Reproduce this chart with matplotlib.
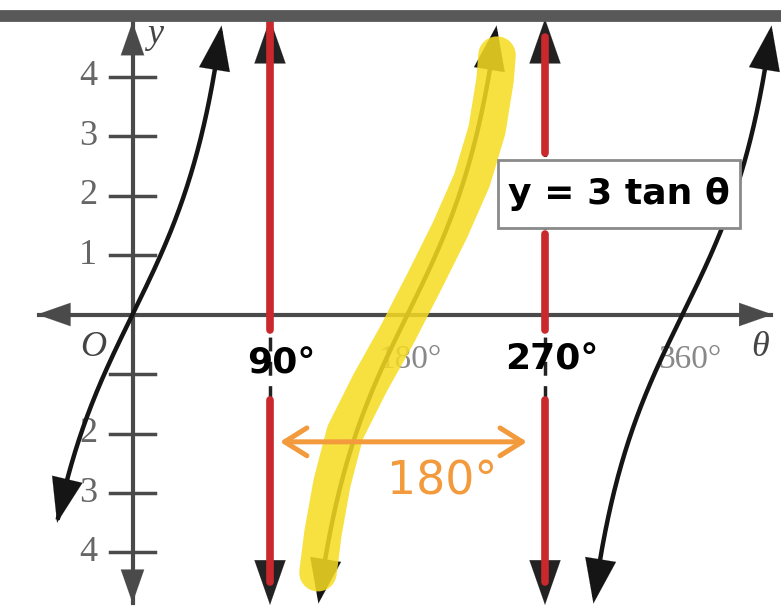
import matplotlib.pyplot as plt
import numpy as np
from matplotlib.patches import Rectangle

# values
y_ticks = [1, 2, 3, 4]
y_tick_labels = ["1", "2", "3", "4"]
neg_ticks = [-1, -2, -3, -4]
neg_tick_labels = ["", "2", "3", "4"]
asymptotes = [90, 270]
# theta ranges of the three drawn branches of y = 3 tan(theta)
branch_start = [-49.4, 121.7, 301.7]
branch_end = [58.3, 238.3, 418.3]
amp = 3
# hand drawn yellow highlighter path (theta, y)
hl_theta = [121.4, 124.7, 130.6, 139.1, 155.5, 173.8, 180.5, 191.5, 207.8, 222.2, 232.0, 237.3, 238.6]
hl_y = [-4.34, -3.67, -2.83, -1.99, -1.15, -0.31, 0.03, 0.58, 1.42, 2.26, 3.10, 3.94, 4.36]
# red hand drawn pieces over the asymptotes (top, bottom)
red_90 = [(5.0, -0.26), (-1.43, -4.5)]
red_270 = [(4.66, 2.71), (1.36, -0.26), (-1.43, -4.5)]

fig = plt.figure(figsize=(7.81, 6.07), dpi=100)
ax = fig.add_axes([0, 0, 1, 1])
ax.set_xlim(-86.73, 424.47)
ax.set_ylim(-4.916, 5.286)
ax.axis('off')

axis_col = '#4a4a4a'
gray_txt = '#666666'

def arrow(tip, tail, col, ms=16, hl=2.0, hw=0.7, lw=3, z=3):
    ax.annotate('', xy=tip, xytext=tail, zorder=z,
                arrowprops=dict(arrowstyle=f'-|>,head_length={hl},head_width={hw}',
                                color=col, lw=lw, mutation_scale=ms,
                                shrinkA=0, shrinkB=0))

# axes with arrows
ax.plot([-61, 418], [0, 0], color=axis_col, lw=3, zorder=2)
arrow((-62.5, 0), (-40, 0), axis_col, ms=12, lw=0.1)
arrow((419, 0), (400, 0), axis_col, ms=12, lw=0.1)
ax.plot([0, 0], [-4.85, 4.9], color=axis_col, lw=3, zorder=2)
arrow((0, 4.92), (0, 4.5), axis_col, ms=12, lw=0.1)
arrow((0, -4.85), (0, -4.4), axis_col, ms=12, lw=0.1)

# y ticks
for v in y_ticks + neg_ticks:
    ax.plot([-14.7, 14.7], [v, v], color=axis_col, lw=2.5, zorder=2)
for v, s in zip(y_ticks + neg_ticks, y_tick_labels + neg_tick_labels):
    ax.text(-29.1, v, s, ha='center', va='center', fontsize=26,
            family='Liberation Serif', color=gray_txt, zorder=2)

# printed labels
ax.text(14.7, 4.7, 'y', ha='center', va='center', fontsize=26, style='italic',
        family='Liberation Serif', color='#444444')
ax.text(-25.9, -0.56, 'O', ha='center', va='center', fontsize=26, style='italic',
        family='Liberation Serif', color='#444444', zorder=2)
ax.text(410.7, -0.56, 'θ', ha='center', va='center', fontsize=26, style='italic',
        family='Liberation Serif', color='#444444')
ax.text(181.6, -0.76, '180°', ha='center', va='center', fontsize=24,
        family='Liberation Serif', color='#888888', zorder=2)
ax.text(364.9, -0.76, '360°', ha='center', va='center', fontsize=24,
        family='Liberation Serif', color='#888888', zorder=2)

# asymptotes: black dashed with arrows, red marker over them
for a in asymptotes:
    ax.plot([a, a], [-4.7, 4.7], color='#222222', lw=2.5, ls=(0, (4, 3)), zorder=3)
    arrow((a, 4.97), (a, 4.5), '#222222', lw=0.1)
    arrow((a, -4.88), (a, -4.4), '#222222', lw=0.1)
for a, pieces in zip(asymptotes, [red_90, red_270]):
    for top, bot in pieces:
        ax.plot([a, a], [top, bot], color='#c9282d', lw=5.5,
                solid_capstyle='round', zorder=4)

# tangent branches
for t0, t1 in zip(branch_start, branch_end):
    th = np.linspace(t0, t1, 300)
    yy = amp * np.tan(np.radians(th))
    ax.plot(th[2:-2], yy[2:-2], color='#151515', lw=3.2, zorder=5)
    arrow((th[-1], yy[-1]), (th[-20], yy[-20]), '#151515', lw=0.1, z=5)
    arrow((th[0], yy[0]), (th[19], yy[19]), '#151515', lw=0.1, z=5)

# highlighter
ax.plot(hl_theta, hl_y, color='#f6dc22', lw=27, alpha=0.86,
        solid_capstyle='round', solid_joinstyle='round', zorder=6)

# hand written labels
ax.text(97.2, -0.82, '90°', ha='center', va='center', fontsize=26,
        fontweight='bold', color='black', zorder=7)
ax.text(274.6, -0.76, '270°', ha='center', va='center', fontsize=26,
        fontweight='bold', color='black', zorder=7)

# equation box
ax.add_patch(Rectangle((239.2, 1.454), 158.4, 1.143, facecolor='white',
                       edgecolor='#8a8a8a', lw=2, zorder=8))
ax.text(318.4, 2.02, 'y = 3 tan θ', ha='center', va='center', fontsize=26,
        fontweight='bold', color='black', zorder=9)

# orange 180 degree span
ax.annotate('', xy=(96.5, -2.14), xytext=(258.2, -2.14), zorder=7,
            arrowprops=dict(arrowstyle='<->,head_length=0.8,head_width=0.5',
                            color='#f29a3c', lw=3.6, mutation_scale=20,
                            shrinkA=0, shrinkB=0))
ax.text(202.6, -2.82, '180°', ha='center', va='center', fontsize=33,
        color='#f29a3c', zorder=7)

# dark bar along the top of the screenshot
ax.plot([0, 1], [0.9736, 0.9736], transform=ax.transAxes, color='#585858',
        lw=8.5, solid_capstyle='butt', zorder=10)

fig.savefig('out.png', dpi=100)
